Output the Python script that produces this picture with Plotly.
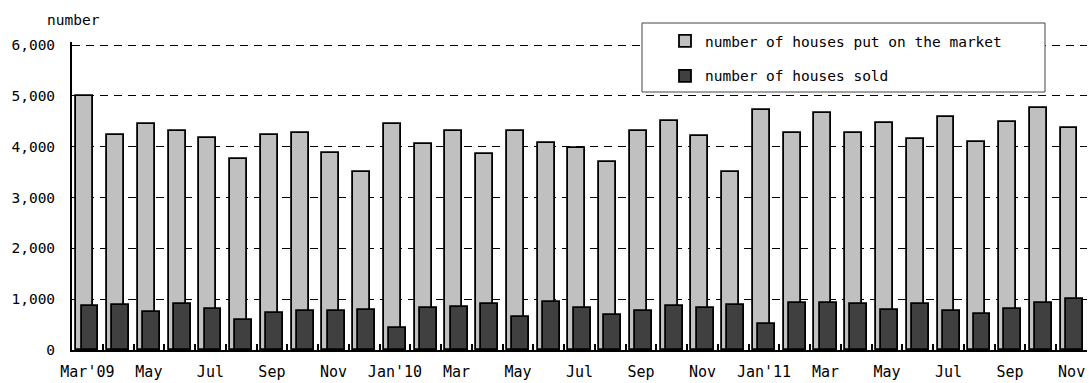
import plotly.graph_objects as go

# Monthly housing market figures, Mar 2009 - Nov 2011
months = [
    "Mar'09", "Apr'09", "May'09", "Jun'09", "Jul'09", "Aug'09", "Sep'09", "Oct'09", "Nov'09", "Dec'09",
    "Jan'10", "Feb'10", "Mar'10", "Apr'10", "May'10", "Jun'10", "Jul'10", "Aug'10", "Sep'10", "Oct'10", "Nov'10", "Dec'10",
    "Jan'11", "Feb'11", "Mar'11", "Apr'11", "May'11", "Jun'11", "Jul'11", "Aug'11", "Sep'11", "Oct'11", "Nov'11",
]
tick_labels = [
    "Mar'09", "", "May", "", "Jul", "", "Sep", "", "Nov", "",
    "Jan'10", "", "Mar", "", "May", "", "Jul", "", "Sep", "", "Nov", "",
    "Jan'11", "", "Mar", "", "May", "", "Jul", "", "Sep", "", "Nov",
]
houses_listed = [
    5000, 4230, 4455, 4310, 4165, 3755, 4230, 4265, 3880, 3510,
    4455, 4060, 4300, 3865, 4300, 4070, 3965, 3705, 4300, 4510, 4210, 3510,
    4715, 4260, 4665, 4270, 4460, 4160, 4585, 4095, 4495, 4755, 4375,
]
houses_sold = [
    870, 890, 745, 900, 800, 590, 725, 770, 765, 780,
    435, 820, 850, 900, 640, 940, 820, 680, 770, 870, 835, 880,
    505, 925, 920, 915, 795, 900, 770, 715, 815, 925, 1005,
]
y_ticks = [0, 1000, 2000, 3000, 4000, 5000, 6000]
y_tick_labels = ["0", "1,000", "2,000", "3,000", "4,000", "5,000", "6,000"]

MONO = "DejaVu Sans Mono"
BAR_W = 0.55
Y_MAX = 6060  # a little headroom so the 6,000 grid line is drawn

fig = go.Figure()
fig.add_trace(go.Bar(
    x=months, y=houses_listed, name="number of houses put on the market",
    width=BAR_W, offset=-0.36, legendgroup="a",
    marker=dict(color="#c0c0c0", line=dict(color="black", width=1.8)),
))
fig.add_trace(go.Bar(
    x=months, y=houses_sold, name="number of houses sold",
    width=BAR_W, offset=-0.19, legendgroup="b",
    marker=dict(color="#404040", line=dict(color="black", width=1.8)),
))

# plot area in pixels: x 72..1087, y 42..350
PX_L, PX_W, PX_B, PX_H = 72, 1015, 350, 308

# legend frame
fig.add_shape(
    type="rect", xref="paper", yref="paper", layer="above",
    x0=(642 - PX_L) / PX_W, x1=(1045 - PX_L) / PX_W,
    y0=(PX_B - 92) / PX_H, y1=(PX_B - 23) / PX_H,
    fillcolor="white", line=dict(color="#444444", width=1),
)

fig.add_annotation(
    text="number", xref="paper", yref="paper", x=(45 - PX_L) / PX_W, y=(PX_B - 20) / PX_H,
    xanchor="left", yanchor="middle", showarrow=False,
    font=dict(family=MONO, size=14.5, color="black"),
)

fig.update_layout(
    width=1089, height=383,
    margin=dict(l=72, r=2, t=42, b=33),
    paper_bgcolor="white", plot_bgcolor="white",
    barmode="overlay", bargap=0,
    showlegend=True,
    legend=dict(
        x=(665 - PX_L) / PX_W, xanchor="left",
        y=(PX_B - 25) / PX_H, yanchor="top",
        bgcolor="rgba(0,0,0,0)", borderwidth=0,
        font=dict(family=MONO, size=14.5, color="black"),
        tracegroupgap=13, traceorder="grouped",
    ),
    font=dict(family=MONO, color="black"),
)
fig.update_xaxes(
    type="category", tickmode="array", tickvals=months, ticktext=tick_labels,
    tickson="boundaries", ticks="inside", ticklen=6, tickwidth=1.5, tickcolor="black",
    showline=True, linecolor="black", linewidth=2,
    showgrid=False, tickangle=0, ticklabelstandoff=7, automargin=False,
    tickfont=dict(family=MONO, size=15, color="black"),
    range=[-0.5, len(months) - 0.5],
)
fig.update_yaxes(
    range=[0, Y_MAX], tickmode="array", tickvals=y_ticks, ticktext=y_tick_labels,
    showline=True, linecolor="black", linewidth=2,
    showgrid=True, gridcolor="black", gridwidth=1, griddash="8px,6px",
    zeroline=False, ticks="", ticklabelstandoff=12, automargin=False,
    tickfont=dict(family=MONO, size=14.5, color="black"),
)

fig.write_html("out.html")
